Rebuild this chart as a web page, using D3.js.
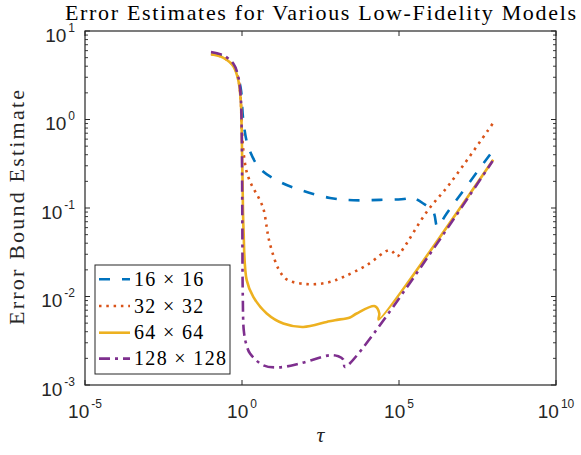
<!DOCTYPE html>
<html>
<head>
<meta charset="utf-8">
<script src="https://cdn.jsdelivr.net/npm/d3@7"></script>
<style>
  body { margin: 0; background: #fff; }
  svg { display: block; }
</style>
</head>
<body>
<div id="chart"></div>
<script>
// values (tau, error bound estimate)
const seriesNames = ["16 \u00d7 16", "32 \u00d7 32", "64 \u00d7 64", "128 \u00d7 128"];

const blueTau = [0.103, 0.248, 0.528, 0.762, 0.93, 1.10, 1.59, 3.74, 16.2, 89.6, 635, 3510, 24800, 1.76e5, 2.36e5, 5.94e5, 1.24e6, 1.68e6, 3.30e6, 1.0e8];
const blueErr = [5.6, 5.15, 4.15, 2.95, 2.14, 0.98, 0.49, 0.279, 0.197, 0.156, 0.130, 0.1225, 0.1235, 0.128, 0.1335, 0.1124, 0.0903, 0.0615, 0.0867, 0.45];

const orangeTau = [0.103, 0.248, 0.528, 0.762, 0.91, 0.977, 1.02, 1.10, 1.41, 2.04, 3.30, 4.77, 6.12, 6.88, 8.83, 14.3, 26.5, 115, 498, 1684, 9350, 51700, 88300, 1.37e5, 7.62e5, 4.2e6, 1.0e8];
const orangeErr = [5.5, 5.05, 4.05, 2.85, 1.7, 0.8, 0.67, 0.45, 0.256, 0.181, 0.133, 0.0987, 0.0611, 0.0471, 0.0334, 0.0207, 0.0156, 0.0138, 0.0143, 0.0166, 0.0226, 0.0334, 0.0285, 0.0348, 0.0903, 0.189, 0.916];

const yellowTau = [0.103, 0.248, 0.528, 0.762, 0.91, 0.977, 1.04, 1.12, 1.41, 2.29, 6.12, 20.7, 89.6, 498, 916, 2750, 4490, 17200, 23600, 22500, 1.0e8];
const yellowErr = [5.45, 4.99, 4.0, 2.78, 1.65, 0.76, 0.206, 0.056, 0.0153, 0.00989, 0.00643, 0.00495, 0.00453, 0.00516, 0.0054, 0.0058, 0.00643, 0.00777, 0.00643, 0.0055, 0.35];

const purpleTau = [0.103, 0.248, 0.528, 0.762, 0.91, 0.977, 1.02, 1.06, 1.15, 1.4, 1.8, 4.77, 14.3, 70, 635, 1170, 1680, 1900, 9.6e7];
const purpleErr = [5.8, 5.33, 4.29, 3.03, 1.8, 0.76, 0.1, 0.01, 0.004, 0.0028, 0.00227, 0.00167, 0.00158, 0.00175, 0.00217, 0.00211, 0.00194, 0.0016, 0.34];

const xTicks = [1e-5, 1e0, 1e5, 1e10];
const yTicks = [1e-3, 1e-2, 1e-1, 1e0, 1e1];

const series = [
    { name: seriesNames[0], tau: blueTau, err: blueErr, color: "#0072BD", dash: "11,12" },
    { name: seriesNames[1], tau: orangeTau, err: orangeErr, color: "#D95319", dash: "2.5,4.8" },
    { name: seriesNames[2], tau: yellowTau, err: yellowErr, color: "#EDB120", dash: "none" },
    { name: seriesNames[3], tau: purpleTau, err: purpleErr, color: "#7E2F8E", dash: "11,5,3,5" }
];

const width = 581, height = 455;
const margin = { left: 85, right: 25, top: 31, bottom: 70 };
const axisColor = "#262626";
const serif = "'Liberation Serif', 'Times New Roman', serif";
const sans = "'Liberation Sans', Arial, Helvetica, sans-serif";

const svg = d3.select("#chart").append("svg")
    .attr("width", width)
    .attr("height", height);

const x = d3.scaleLog().domain([1e-5, 1e10]).range([margin.left, width - margin.right]);
const y = d3.scaleLog().domain([1e-3, 1e1]).range([height - margin.bottom, margin.top]);

const [x0, x1] = x.range();
const [y0, y1] = y.range(); // y0 bottom, y1 top

// widen a text by letter spacing so it spans the target width (LaTeX font is wider)
function spreadTo(sel, target) {
    const node = sel.node();
    const n = sel.text().length;
    const w = node.getComputedTextLength();
    if (w > 0 && n > 1) sel.attr("letter-spacing", (target - w) / (n - 1));
}

// clip
svg.append("defs").append("clipPath").attr("id", "clip")
    .append("rect").attr("x", x0).attr("y", y1).attr("width", x1 - x0).attr("height", y0 - y1);

// Lines
const line = d3.line()
    .x(d => x(d[0]))
    .y(d => y(d[1]))
    .curve(d3.curveCatmullRom.alpha(0.5));

const plot = svg.append("g").attr("clip-path", "url(#clip)");
series.forEach(s => {
    const pts = s.tau.map((t, i) => [t, s.err[i]]);
    plot.append("path")
        .datum(pts)
        .attr("fill", "none")
        .attr("stroke", s.color)
        .attr("stroke-width", 2.6)
        .attr("stroke-dasharray", s.dash)
        .attr("stroke-linejoin", "round")
        .attr("d", line);
});

// Axes box
const axes = svg.append("g").attr("stroke", axisColor).attr("fill", "none");
axes.append("rect")
    .attr("x", x0).attr("y", y1)
    .attr("width", x1 - x0).attr("height", y0 - y1)
    .attr("stroke-width", 1.2);

// x ticks (inward, top and bottom)
xTicks.forEach(t => {
    const px = x(t);
    axes.append("line").attr("x1", px).attr("x2", px).attr("y1", y0).attr("y2", y0 - 5);
    axes.append("line").attr("x1", px).attr("x2", px).attr("y1", y1).attr("y2", y1 + 5);
});

// y ticks with minor ticks
yTicks.forEach(t => {
    const py = y(t);
    axes.append("line").attr("x1", x0).attr("x2", x0 + 5).attr("y1", py).attr("y2", py);
    axes.append("line").attr("x1", x1).attr("x2", x1 - 5).attr("y1", py).attr("y2", py);
    if (t < 1e1) {
        for (let k = 2; k <= 9; k++) {
            const pm = y(t * k);
            axes.append("line").attr("x1", x0).attr("x2", x0 + 3).attr("y1", pm).attr("y2", pm).attr("stroke-width", 0.9);
            axes.append("line").attr("x1", x1).attr("x2", x1 - 3).attr("y1", pm).attr("y2", pm).attr("stroke-width", 0.9);
        }
    }
});

// tick labels with superscript exponents
function powLabel(g, v) {
    const e = Math.round(Math.log10(v));
    g.append("tspan").text("10");
    g.append("tspan").attr("dx", 2).attr("dy", -10).attr("font-size", 12).text(e);
}

xTicks.forEach(t => {
    const txt = svg.append("text")
        .attr("x", x(t))
        .attr("y", y0 + 33)
        .attr("text-anchor", "middle")
        .attr("font-family", sans)
        .attr("font-size", 19)
        .attr("fill", axisColor);
    powLabel(txt, t);
});

yTicks.forEach(t => {
    const txt = svg.append("text")
        .attr("x", x0 - 10)
        .attr("y", y(t) + 10.7)
        .attr("text-anchor", "end")
        .attr("font-family", sans)
        .attr("font-size", 19)
        .attr("fill", axisColor);
    powLabel(txt, t);
});

// Title
const title = svg.append("text")
    .attr("x", 65)
    .attr("y", 20)
    .attr("font-family", serif)
    .attr("font-size", 22)
    .attr("fill", "#000")
    .text("Error Estimates for Various Low-Fidelity Models");
spreadTo(title, 511);

// Axis labels
svg.append("text")
    .attr("x", (x0 + x1) / 2)
    .attr("y", 442)
    .attr("text-anchor", "middle")
    .attr("font-family", serif)
    .attr("font-style", "italic")
    .attr("font-size", 22)
    .attr("fill", axisColor)
    .text("\u03c4");

const ylab = svg.append("text")
    .attr("transform", `translate(24,325) rotate(-90)`)
    .attr("font-family", serif)
    .attr("font-size", 22)
    .attr("fill", axisColor)
    .text("Error Bound Estimate");
spreadTo(ylab, 235);

// Legend
const legend = svg.append("g");
legend.append("rect")
    .attr("x", 95).attr("y", 265)
    .attr("width", 135).attr("height", 109)
    .attr("fill", "#fff")
    .attr("stroke", axisColor)
    .attr("stroke-width", 1);

const rowY = [279.3, 306, 332.7, 358.6];
series.forEach((s, i) => {
    legend.append("line")
        .attr("x1", 99).attr("x2", 130)
        .attr("y1", rowY[i]).attr("y2", rowY[i])
        .attr("stroke", s.color)
        .attr("stroke-width", 2.6)
        .attr("stroke-dasharray", s.dash);
    legend.append("text")
        .attr("x", 134)
        .attr("y", rowY[i] + 6.5)
        .attr("font-family", serif)
        .attr("font-size", 20)
        .attr("fill", "#000")
        .attr("class", "legtext")
        .text(s.name);
});
// spread the legend labels so the longest one spans like the reference
const last = legend.selectAll(".legtext").filter((d, i) => i === 3);
const extra = (92 - last.node().getComputedTextLength()) / 8;
legend.selectAll(".legtext").attr("letter-spacing", Math.max(0, extra));
</script>
</body>
</html>
